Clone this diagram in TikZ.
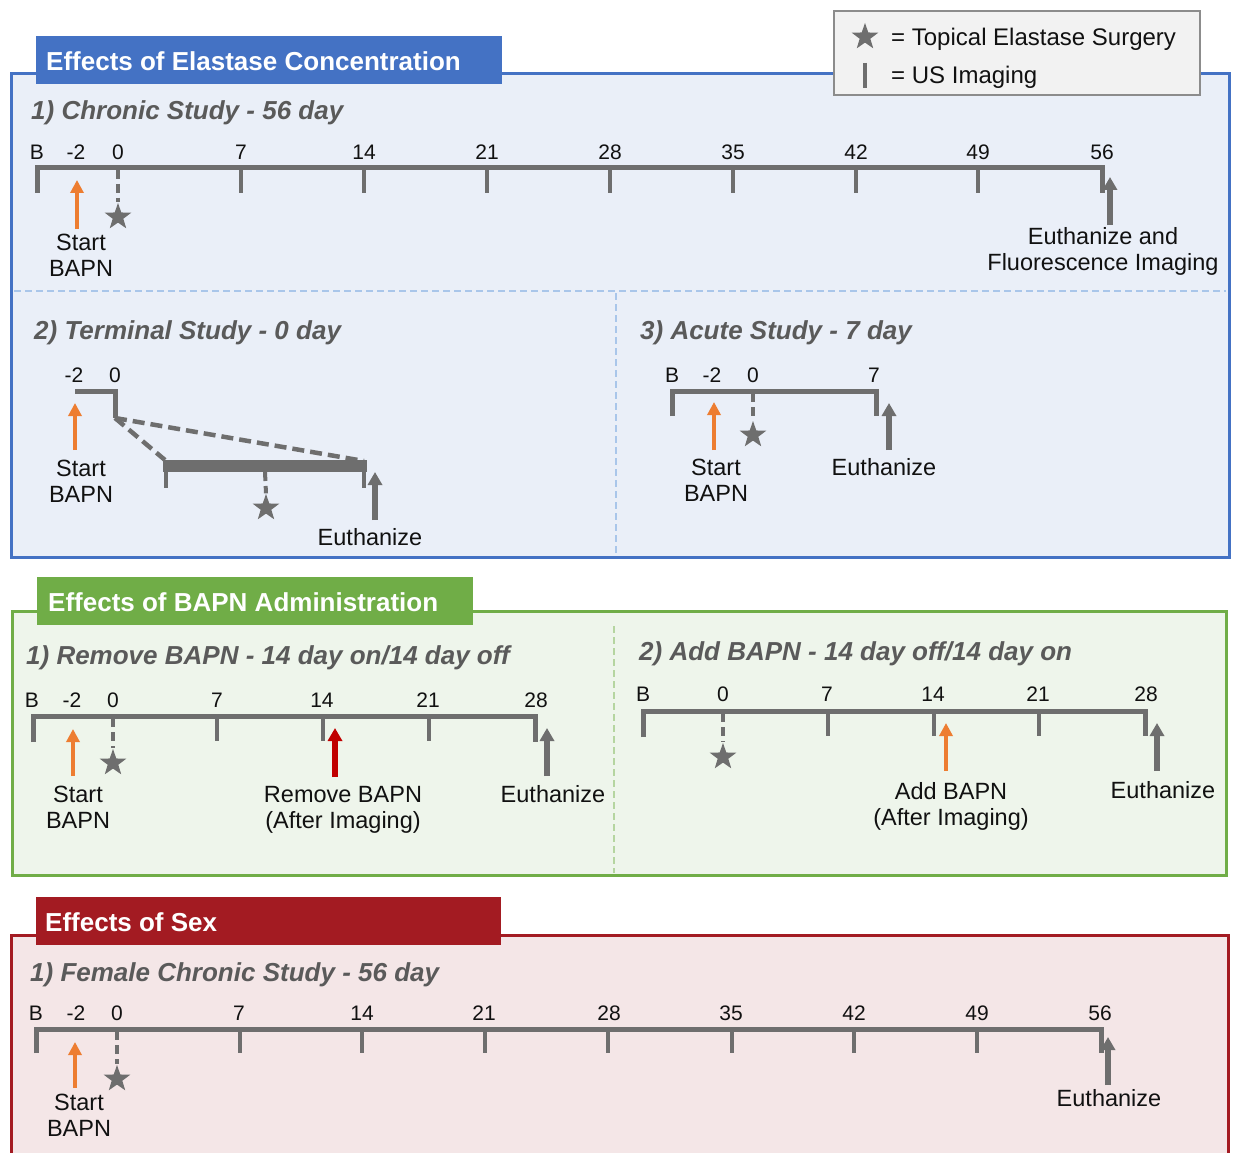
\documentclass[tikz,border=0pt]{standalone}
\usepackage{fontspec}
\setmainfont{Liberation Sans}
\usetikzlibrary{shapes.geometric,arrows.meta}
\definecolor{blueB}{HTML}{4472C4}
\definecolor{blueF}{HTML}{EAEFF8}
\definecolor{blueD}{HTML}{A9C6EA}
\definecolor{greenB}{HTML}{70AD47}
\definecolor{greenF}{HTML}{EEF5EB}
\definecolor{greenD}{HTML}{B5D5A0}
\definecolor{redB}{HTML}{A31B22}
\definecolor{redF}{HTML}{F4E6E7}
\definecolor{lgray}{HTML}{6E6E6E}
\definecolor{subgray}{HTML}{5A5A5A}
\definecolor{orangeA}{HTML}{ED7D31}
\definecolor{redA}{HTML}{C00000}
\definecolor{legF}{HTML}{F2F2F2}
\definecolor{legB}{HTML}{8C8C8C}
\definecolor{txt}{HTML}{111111}
\tikzset{
 tl/.style={draw=lgray, line width=5pt},
 tickln/.style={draw=lgray, line width=4.5pt},
 dashln/.style={draw=lgray, line width=4pt, dash pattern=on 9pt off 5pt},
 diagdash/.style={draw=lgray, line width=4.5pt, dash pattern=on 12pt off 6pt},
 staricon/.style={star, star points=5, star point ratio=2.5, fill=lgray, minimum size=28pt, inner sep=0pt},
 orarrow/.style={draw=orangeA, line width=4pt, -{Triangle[width=13pt,length=13pt]}},
 grarrow/.style={draw=lgray, line width=6pt, -{Triangle[width=14pt,length=13pt]}},
 rdarrow/.style={draw=redA, line width=6pt, -{Triangle[width=14pt,length=13pt]}},
 lbl/.style={font=\fontsize{23.5}{26}\selectfont, text=txt, align=center, inner sep=0pt},
 num/.style={font=\fontsize{21}{24}\selectfont, text=txt, inner sep=0pt},
 subt/.style={font=\fontsize{26}{28}\selectfont\bfseries\itshape, text=subgray, anchor=base west, inner sep=0pt},
 tabtxt/.style={font=\fontsize{26}{28}\selectfont\bfseries, text=white, anchor=base west, inner sep=0pt},
 boxframe/.style={line width=3pt},
 sepline/.style={line width=1.2pt, dash pattern=on 7pt off 4pt},
}
\begin{document}
\begin{tikzpicture}[x=1pt,y=-1pt,line join=miter]
\useasboundingbox (0,0) rectangle (1235,1153);
\fill[white] (0,0) rectangle (1235,1153);

% ===================== Blue section =====================
\draw[boxframe, draw=blueB, fill=blueF] (11,74) rectangle (1229,557);
\draw[sepline, draw=blueD] (14,291) -- (1226,291);
\draw[sepline, draw=blueD] (616,293) -- (616,555);
\fill[blueB] (36,36) rectangle (502,84);
\node[tabtxt] (tabE) at (46,70.3) {Effects of Elastase Concentration};

% legend
\draw[line width=2pt, draw=legB, fill=legF] (834,11) rectangle (1200,95);
\node[staricon] (legstar) at (865,37) {};
\coordinate (legbt) at (865,63);
\coordinate (legbb) at (865,88);
\draw[draw=lgray, line width=4pt] (legbt) -- (legbb);
\node[lbl, anchor=base west, font=\fontsize{24}{26}\selectfont] (legt1) at (891,45.5) {= Topical Elastase Surgery};
\node[lbl, anchor=base west, font=\fontsize{24}{26}\selectfont] (legt2) at (891,83.5) {= US Imaging};

% 1) Chronic
\node[subt] (s1) at (31,120) {1) Chronic Study - 56 day};
\draw[tl] (37,193) -- (37,168) -- (1102,168) -- (1102,193);
\foreach \x in {241,364,487,610,733,856,978} \draw[tickln] (\x,168) -- (\x,193);
\foreach \x/\t in {37/B,76/-2,118/0,241/7,364/14,487/21,610/28,733/35,856/42,978/49,1102/56}
  \node[num] (c1l\x) at (\x,152) {\t};
\node[staricon] (c1star) at (118,217) {};
\coordinate (c1d) at (118,170);
\draw[dashln] (c1d) -- (c1star.north);
\node[lbl] (c1start) at (81,255) {Start\\BAPN};
\coordinate (c1ob) at (77,229); \coordinate (c1ot) at (77,180);
\draw[orarrow] (c1ob) -- (c1ot);
\node[lbl] (c1euth) at (1103,251.5) {Euthanize and\\Fluorescence Imaging};
\coordinate (c1eb) at (1110,225); \coordinate (c1et) at (1110,177);
\draw[grarrow] (c1eb) -- (c1et);

% 2) Terminal
\node[subt] (s2) at (34,339) {2) Terminal Study - 0 day};
\node[num] (t2m) at (74,375) {-2};
\node[num] (t2z) at (115,375) {0};
\draw[tl] (75,391) -- (115,391) -- (115,418);
\coordinate (tkink) at (115,418);
\coordinate (tbl) at (165,460);
\coordinate (tbr) at (364,461);
\draw[diagdash] (tkink) -- (tbl);
\draw[diagdash] (tkink) -- (tbr);
\draw[draw=lgray, line width=12pt] (163,466) -- (367,466);
\draw[tickln] (166,466) -- (166,488);
\draw[tickln] (364,466) -- (364,488);
\node[staricon] (t2star) at (266,508) {};
\coordinate (t2d) at (265,472);
\draw[dashln] (t2d) -- (t2star.north);
\node[lbl] (t2start) at (81,481) {Start\\BAPN};
\coordinate (t2ob) at (75,450); \coordinate (t2ot) at (75,403);
\draw[orarrow] (t2ob) -- (t2ot);
\node[lbl] (t2euth) at (370,537) {Euthanize};
\coordinate (t2eb) at (375,520); \coordinate (t2et) at (375,472);
\draw[grarrow] (t2eb) -- (t2et);

% 3) Acute
\node[subt] (s3) at (640,339) {3) Acute Study - 7 day};
\foreach \x/\t in {672/B,712/-2,753/0,874/7}
  \node[num] (a3l\x) at (\x,375) {\t};
\draw[tl] (672,416) -- (672,391) -- (876,391) -- (876,416);
\node[staricon] (a3star) at (753,435) {};
\coordinate (a3d) at (753,393);
\draw[dashln] (a3d) -- (a3star.north);
\node[lbl] (a3start) at (716,480.5) {Start\\BAPN};
\coordinate (a3ob) at (714,450); \coordinate (a3ot) at (714,402);
\draw[orarrow] (a3ob) -- (a3ot);
\node[lbl] (a3euth) at (884,467) {Euthanize};
\coordinate (a3eb) at (889,450); \coordinate (a3et) at (889,403);
\draw[grarrow] (a3eb) -- (a3et);

% ===================== Green section =====================
\draw[boxframe, draw=greenB, fill=greenF] (12,611) rectangle (1226,875);
\draw[sepline, draw=greenD] (614,626) -- (614,873);
\fill[greenB] (37,577) rectangle (473,625);
\node[tabtxt] (tabB) at (48,611) {Effects of BAPN Administration};

% 1) Remove BAPN
\node[subt] (g1s) at (26,664) {1) Remove BAPN - 14 day on/14 day off};
\draw[tl] (33,742) -- (33,716) -- (535,716) -- (535,742);
\foreach \x in {217,323,429} \draw[tickln] (\x,716) -- (\x,741);
\foreach \x/\t in {32/B,72/-2,113/0,217/7,322/14,428/21,536/28}
  \node[num] (g1l\x) at (\x,700) {\t};
\node[staricon] (g1star) at (113,763) {};
\coordinate (g1d) at (113,718);
\draw[dashln] (g1d) -- (g1star.north);
\node[lbl] (g1start) at (78,807) {Start\\BAPN};
\coordinate (g1ob) at (73,776); \coordinate (g1ot) at (73,729);
\draw[orarrow] (g1ob) -- (g1ot);
\node[lbl] (g1rem) at (343,810) {Remove BAPN\\(After Imaging)};
\coordinate (g1rb) at (335,777); \coordinate (g1rt) at (335,728);
\draw[rdarrow] (g1rb) -- (g1rt);
\node[lbl] (g1euth) at (553,794) {Euthanize};
\coordinate (g1eb) at (547,776); \coordinate (g1et) at (547,728);
\draw[grarrow] (g1eb) -- (g1et);

% 2) Add BAPN
\node[subt] (g2s) at (639,660) {2) Add BAPN - 14 day off/14 day on};
\draw[tl] (643,737) -- (643,711) -- (1145,711) -- (1145,736);
\foreach \x in {828,934,1039} \draw[tickln] (\x,711) -- (\x,736);
\foreach \x/\t in {643/B,723/0,827/7,933/14,1038/21,1146/28}
  \node[num] (g2l\x) at (\x,694) {\t};
\node[staricon] (g2star) at (723,757) {};
\coordinate (g2d) at (723,713);
\draw[dashln] (g2d) -- (g2star.north);
\node[lbl] (g2add) at (951,806) {Add BAPN\\(After Imaging)};
\coordinate (g2ob) at (946,771); \coordinate (g2ot) at (946,723);
\draw[orarrow] (g2ob) -- (g2ot);
\node[lbl] (g2euth) at (1163,790) {Euthanize};
\coordinate (g2eb) at (1157,771); \coordinate (g2et) at (1157,723);
\draw[grarrow] (g2eb) -- (g2et);

% ===================== Red section =====================
\draw[boxframe, draw=redB, fill=redF] (11,935) rectangle (1228,1170);
\fill[redB] (36,897) rectangle (501,945);
\node[tabtxt] (tabS) at (45,931.3) {Effects of Sex};

\node[subt] (r1s) at (30,981) {1) Female Chronic Study - 56 day};
\draw[tl] (36,1053) -- (36,1029) -- (1101,1029) -- (1101,1053);
\foreach \x in {240,362,485,608,732,854,977} \draw[tickln] (\x,1029) -- (\x,1053);
\foreach \x/\t in {36/B,76/-2,117/0,239/7,362/14,484/21,609/28,731/35,854/42,977/49,1100/56}
  \node[num] (r1l\x) at (\x,1013) {\t};
\node[staricon] (r1star) at (117,1079) {};
\coordinate (r1d) at (117,1031);
\draw[dashln] (r1d) -- (r1star.north);
\node[lbl] (r1start) at (79,1115) {Start\\BAPN};
\coordinate (r1ob) at (75,1088); \coordinate (r1ot) at (75,1042);
\draw[orarrow] (r1ob) -- (r1ot);
\node[lbl] (r1euth) at (1109,1098) {Euthanize};
\coordinate (r1eb) at (1108,1085); \coordinate (r1et) at (1108,1037);
\draw[grarrow] (r1eb) -- (r1et);
\end{tikzpicture}
\end{document}
